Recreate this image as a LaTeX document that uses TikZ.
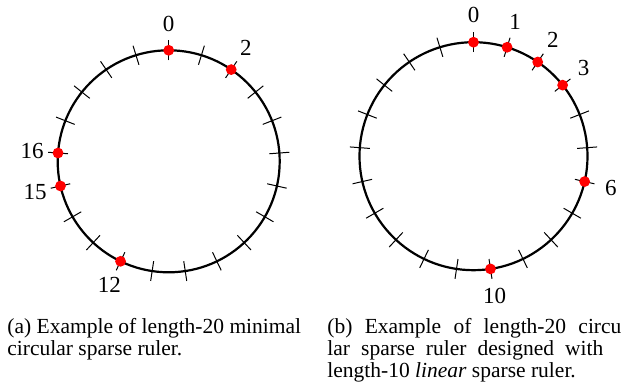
\documentclass[tikz,border=0pt]{standalone}
\usepackage{fontspec}
\setmainfont{Liberation Serif}
\usepackage{tikz}
\usetikzlibrary{calc}

\begin{document}
\begin{tikzpicture}[
  x=0.5pt, y=-0.5pt,
  ring/.style={line width=1.1pt},
  rulertick/.style={line width=0.5pt},
  markdot/.style={circle, fill=red, inner sep=0pt, minimum size=5.4pt},
  marklabel/.style={font=\fontsize{11.5}{13}\selectfont, inner sep=0pt},
  caption/.style={font=\fontsize{10.75}{12}\selectfont, anchor=base west,
                  inner sep=0pt},
]
  \useasboundingbox (0,0) rectangle (621,385);

  % (a) minimal circular ruler
  \coordinate (ca) at (168.7,161.3);
  \draw[ring] (ca) circle[radius=111];
  \foreach \k in {0,...,20}
    \draw[rulertick] ($(ca)+(-90+\k*360/21:101)$) -- ($(ca)+(-90+\k*360/21:121)$);
  \foreach \m in {0,2,12,15,16} {
    \node[markdot] (a\m) at ($(ca)+(-90+\m*360/21:111)$) {};
    \node[marklabel] (la\m) at ($(ca)+(-90+\m*360/21:137)$) {\m};
  }

  % (b) ruler built from a linear one
  \coordinate (cb) at (473.5,156.2);
  \draw[ring] (cb) circle[radius=114];
  \foreach \k in {0,...,20}
    \draw[rulertick] ($(cb)+(-90+\k*360/21:104)$) -- ($(cb)+(-90+\k*360/21:124)$);
  \foreach \m in {0,1,2,3,6,10} {
    \node[markdot] (b\m) at ($(cb)+(-90+\m*360/21:114)$) {};
    \node[marklabel] (lb\m) at ($(cb)+(-90+\m*360/21:141)$) {\m};
  }

  % Captions
  \node[caption] (capa1) at (7,333) {(a) Example of length-20 minimal};
  \node[caption] (capa2) at (7,355) {circular sparse ruler.};
  \node[caption] (capb1) at (327,333) {\makebox[147pt][s]{(b) Example of length-20 circu}};
  \node[caption] (capb2) at (327,355) {\makebox[138pt][s]{lar sparse ruler designed with}};
  \node[caption] (capb3) at (327,377) {length-10 \textit{linear} sparse ruler.};
\end{tikzpicture}
\end{document}
